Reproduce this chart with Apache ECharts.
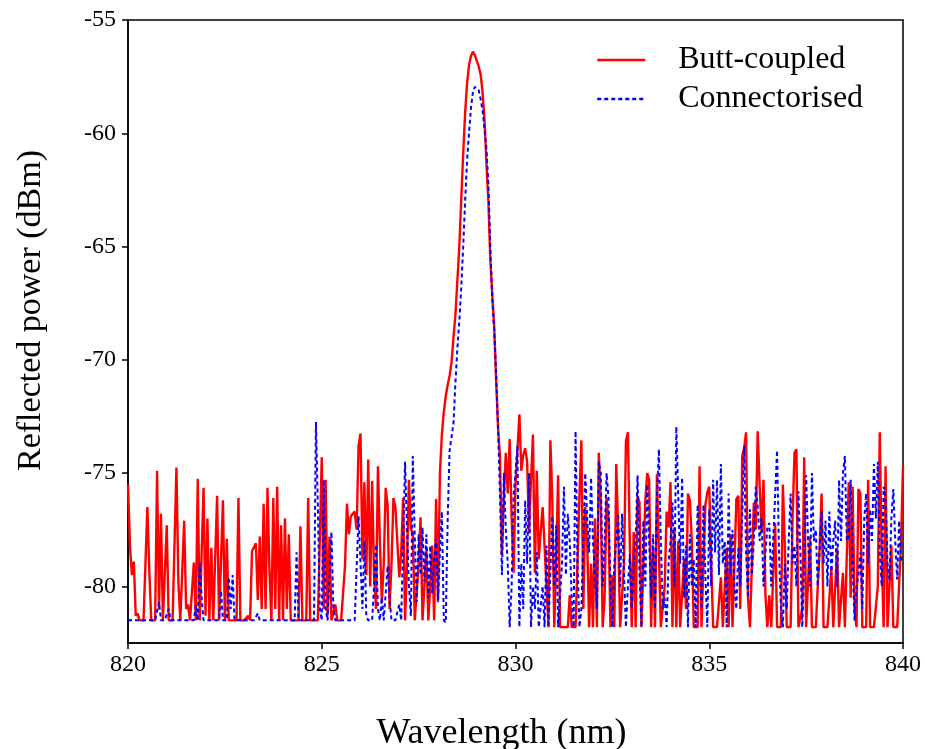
<!DOCTYPE html>
<html>
<head>
<meta charset="utf-8">
<script src="https://cdn.jsdelivr.net/npm/echarts@6/dist/echarts.min.js"></script>
<style>
html,body{margin:0;padding:0;background:#fff;}
#chart{width:925px;height:749px;}
</style>
</head>
<body>
<div id="chart"></div>
<script>
// Sampling grid: 820.00 nm to 840.00 nm, step 0.05 nm
const wavelengthStart = 820;
const wavelengthStep = 0.05;
const seriesNames = ['Butt-coupled', 'Connectorised'];
const xTicks = [820, 825, 830, 835, 840];
const yTicks = [-80, -75, -70, -65, -60, -55];

// Reflected power (dBm), one row per nm
const buttCoupled = [
  -75.5,-78.2,-79.5,-78.9,-81.3,-81.2,-81.5,-81.5,-81.5,-79.0,-76.5,-79.3,-81.5,-81.5,-81.5,-74.9,-81.0,-76.8,-81.5,-81.5,
  -77.3,-81.5,-81.5,-81.5,-81.5,-74.75,-79.8,-81.5,-81.5,-77.1,-81.0,-80.8,-81.5,-81.5,-78.95,-81.5,-75.25,-81.5,-81.5,-75.65,
  -81.3,-77.0,-81.5,-78.3,-81.5,-81.5,-76.0,-81.5,-81.5,-76.2,-81.5,-77.9,-81.5,-81.5,-81.5,-81.5,-81.5,-76.1,-81.5,-81.5,
  -81.5,-81.5,-81.3,-81.5,-78.45,-78.4,-78.1,-80.6,-77.8,-81.0,-76.35,-81.0,-75.65,-79.25,-81.5,-76.1,-81.0,-75.6,-81.5,-77.3,
  -81.5,-77.0,-81.0,-77.7,-81.5,-81.5,-81.5,-81.5,-81.5,-77.35,-81.5,-81.5,-81.5,-76.1,-81.5,-81.5,-81.5,-81.5,-81.5,-81.5,
  -74.3,-81.0,-75.3,-81.3,-77.8,-81.5,-81.5,-80.8,-81.5,-81.5,-81.5,-81.5,-79.1,-76.35,-77.7,-76.9,-76.9,-76.7,-77.5,-73.8,
  -73.25,-78.8,-75.4,-79.5,-74.4,-80.0,-75.35,-79.5,-81.0,-74.7,-78.0,-80.7,-79.0,-75.65,-76.45,-81.0,-79.0,-76.1,-76.5,-78.0,
  -79.6,-78.5,-76.1,-81.5,-79.0,-75.3,-77.5,-77.6,-81.5,-81.5,-79.0,-76.95,-81.5,-81.5,-78.4,-81.5,-80.0,-78.2,-81.5,-76.15,
  -80.7,-75.0,-73.3,-72.3,-71.6,-71.1,-70.7,-70.1,-69.0,-68.0,-66.5,-65.0,-62.9,-60.9,-59.1,-57.8,-57.0,-56.6,-56.4,-56.55,
  -56.8,-57.05,-57.4,-58.2,-59.4,-61.3,-63.0,-65.6,-67.1,-68.5,-70.9,-73.0,-74.3,-78.6,-76.0,-74.1,-75.9,-73.5,-77.0,-79.4,
  -75.5,-74.0,-72.4,-74.9,-74.2,-73.9,-74.5,-77.6,-75.3,-73.3,-79.4,-74.9,-78.8,-77.6,-76.5,-78.2,-80.0,-81.8,-73.55,-76.2,
  -81.8,-78.8,-75.1,-81.8,-81.8,-81.8,-81.8,-81.8,-80.4,-81.8,-81.8,-81.8,-81.8,-76.0,-73.55,-81.0,-76.5,-78.0,-81.8,-79.0,
  -81.8,-77.0,-81.8,-74.1,-76.2,-81.8,-80.5,-76.1,-77.0,-81.8,-79.5,-81.8,-74.6,-77.6,-81.8,-81.8,-79.0,-73.6,-73.2,-78.0,
  -81.8,-77.6,-81.8,-76.0,-76.3,-81.8,-79.0,-76.2,-75.0,-75.3,-81.8,-78.3,-81.8,-75.05,-78.4,-81.8,-81.8,-80.0,-76.7,-77.4,
  -75.4,-81.8,-77.4,-81.8,-78.0,-81.8,-81.8,-78.8,-81.0,-75.9,-76.2,-78.0,-81.8,-81.8,-81.8,-74.7,-81.8,-81.8,-76.4,-75.85,
  -75.6,-78.9,-81.8,-81.8,-81.8,-81.8,-79.6,-81.8,-81.8,-78.3,-81.8,-77.7,-81.8,-81.8,-76.15,-76.0,-81.0,-74.25,-73.9,-73.2,
  -80.5,-81.8,-81.8,-76.3,-77.5,-73.15,-75.5,-77.6,-75.3,-80.4,-81.8,-80.4,-81.8,-81.8,-77.2,-81.8,-81.8,-81.8,-75.5,-78.2,
  -81.8,-81.8,-81.8,-77.0,-74.1,-73.95,-81.8,-81.8,-81.0,-74.3,-81.8,-81.8,-77.8,-81.8,-81.8,-81.8,-81.8,-78.2,-75.9,-81.8,
  -81.8,-81.8,-81.8,-79.2,-81.8,-81.8,-78.3,-81.8,-81.8,-79.4,-81.8,-81.8,-75.4,-80.5,-75.6,-81.0,-81.8,-75.7,-75.9,-81.8,
  -81.8,-81.8,-75.3,-81.8,-81.8,-81.8,-81.8,-80.0,-73.2,-78.5,-81.8,-74.7,-81.8,-81.8,-78.2,-81.8,-81.8,-81.8,-81.8,-78.0,
  -74.7
];

const connectorised = [
  -81.5,-81.5,-81.5,-81.5,-81.5,-81.5,-81.5,-81.5,-81.5,-81.5,-81.5,-81.5,-81.5,-81.5,-81.5,-81.5,-80.7,-81.5,-81.5,-81.5,
  -81.5,-81.0,-81.5,-81.5,-81.5,-81.5,-81.5,-81.5,-81.5,-81.5,-81.5,-81.5,-81.5,-81.5,-81.5,-80.8,-81.5,-78.95,-80.5,-81.5,
  -81.5,-81.5,-81.5,-81.5,-81.5,-81.5,-81.5,-81.5,-80.2,-81.5,-81.5,-81.5,-79.6,-81.0,-79.5,-81.5,-81.5,-81.5,-81.5,-81.5,
  -81.5,-81.5,-81.5,-81.5,-81.5,-81.5,-81.5,-81.2,-81.5,-81.5,-81.5,-81.5,-81.5,-81.5,-81.5,-81.5,-81.5,-81.5,-81.5,-81.5,
  -81.5,-81.5,-81.5,-81.5,-81.5,-81.5,-81.5,-78.5,-81.5,-81.5,-81.5,-81.5,-81.5,-81.5,-81.5,-81.5,-81.5,-72.75,-76.5,-81.0,
  -81.5,-75.3,-81.0,-81.5,-81.5,-77.6,-81.0,-81.5,-81.5,-81.5,-81.5,-81.5,-81.5,-81.5,-81.5,-81.5,-81.5,-81.5,-81.5,-76.9,
  -79.0,-81.0,-78.0,-81.3,-81.5,-81.5,-81.5,-80.0,-78.15,-81.0,-81.5,-80.5,-81.5,-81.5,-79.1,-80.5,-81.5,-81.5,-81.5,-81.5,
  -80.8,-81.5,-81.5,-74.5,-77.5,-80.0,-81.3,-74.25,-77.8,-80.7,-77.7,-79.5,-77.4,-79.8,-77.7,-80.5,-78.2,-80.3,-78.8,-77.9,
  -80.6,-78.5,-76.7,-81.5,-81.6,-77.0,-74.0,-73.4,-72.8,-71.0,-69.5,-68.3,-66.8,-65.0,-63.0,-61.2,-60.0,-58.9,-58.2,-57.95,
  -58.0,-58.1,-58.5,-59.0,-59.8,-60.7,-62.2,-65.0,-67.3,-68.7,-70.6,-73.0,-76.0,-79.5,-75.0,-77.5,-79.0,-81.8,-80.0,-76.0,
  -75.0,-73.8,-81.8,-79.0,-81.0,-76.2,-79.0,-75.0,-81.8,-80.0,-81.0,-78.5,-81.8,-81.8,-80.0,-81.8,-78.2,-81.8,-81.8,-76.9,
  -80.0,-77.3,-81.8,-81.8,-79.0,-75.6,-79.5,-76.8,-78.0,-80.5,-81.8,-73.15,-79.0,-81.8,-81.0,-78.0,-75.0,-77.0,-78.5,-75.2,
  -78.0,-78.0,-81.0,-74.5,-75.0,-80.0,-78.0,-75.0,-76.1,-80.0,-81.8,-79.0,-78.0,-76.8,-80.0,-76.8,-79.5,-81.8,-80.0,-78.6,
  -81.0,-79.0,-78.0,-75.1,-79.5,-81.8,-77.1,-80.0,-75.5,-78.0,-80.5,-77.7,-81.0,-76.0,-73.95,-78.0,-81.0,-80.5,-81.8,-79.0,
  -78.0,-76.3,-80.0,-72.95,-76.0,-79.0,-75.2,-80.5,-78.2,-81.8,-77.7,-80.0,-78.8,-81.8,-76.4,-79.0,-81.0,-76.4,-79.5,-81.8,
  -76.6,-80.0,-75.3,-78.5,-75.3,-79.5,-74.6,-79.0,-78.0,-81.8,-75.9,-79.5,-77.5,-80.0,-81.0,-78.3,-80.0,-77.0,-73.8,-78.5,
  -80.5,-76.6,-79.5,-78.0,-75.6,-76.5,-78.0,-77.0,-80.0,-78.5,-77.4,-77.2,-80.0,-78.0,-76.0,-74.0,-78.5,-81.0,-81.8,-79.0,
  -81.0,-78.0,-75.9,-79.0,-78.2,-80.0,-75.8,-78.5,-81.8,-79.0,-75.1,-78.0,-80.0,-75.0,-78.0,-77.5,-80.0,-78.5,-76.7,-79.0,
  -77.1,-80.0,-76.7,-79.5,-78.0,-77.1,-80.0,-75.3,-78.0,-75.0,-74.25,-78.0,-77.8,-75.3,-79.0,-81.5,-80.0,-79.5,-78.5,-81.0,
  -77.0,-75.9,-79.0,-76.6,-78.0,-74.6,-77.0,-74.5,-78.5,-80.0,-75.6,-76.0,-79.0,-79.7,-77.0,-75.7,-78.0,-79.7,-77.1,-78.8,
  -79.0
];

function toPairs(values) {
  return values.map((v, i) => [+(wavelengthStart + i * wavelengthStep).toFixed(2), v]);
}

const FONT = '"Liberation Serif", "Times New Roman", serif';
const chart = echarts.init(document.getElementById('chart'), null, {renderer: 'canvas'});
chart.setOption({
  animation: false,
  backgroundColor: '#ffffff',
  grid: {
    left: 128, right: 22, top: 20, bottom: 106,
    containLabel: false, outerBoundsMode: 'none',
    show: true, borderColor: '#000', borderWidth: 1.5, backgroundColor: 'transparent'
  },
  legend: {
    orient: 'vertical',
    left: 596, top: 43,
    padding: 0,
    itemWidth: 48, itemHeight: 14, itemGap: 5,
    itemStyle: {opacity: 0},
    lineStyle: {width: 2.5},
    textStyle: {fontFamily: FONT, fontSize: 32, color: '#000', lineHeight: 34, padding: [0, 0, 0, 28]},
    data: seriesNames
  },
  xAxis: {
    type: 'value',
    min: 820, max: 840, interval: 5,
    name: 'Wavelength (nm)',
    nameLocation: 'middle', nameGap: 73,
    nameTextStyle: {fontFamily: FONT, fontSize: 36, color: '#000', padding: [0, 28, 0, 0]},
    axisLine: {lineStyle: {color: '#000', width: 1.5}},
    axisTick: {show: true, inside: false, length: 6, lineStyle: {color: '#000', width: 1.5}},
    axisLabel: {fontFamily: FONT, fontSize: 24, color: '#000', margin: 10,
      formatter: v => xTicks.includes(v) ? String(v) : ''},
    splitLine: {show: false}
  },
  yAxis: {
    type: 'value',
    min: -82.5, max: -55, interval: 2.5,
    name: 'Reflected power (dBm)',
    nameLocation: 'middle', nameGap: 80,
    nameTextStyle: {fontFamily: FONT, fontSize: 34, color: '#000', padding: [0, 0, 0, 42]},
    axisLine: {lineStyle: {color: '#000', width: 1.5}},
    axisTick: {show: true, inside: false, length: 6, lineStyle: {color: '#000', width: 1.5},
      customValues: yTicks},
    axisLabel: {fontFamily: FONT, fontSize: 24, color: '#000', margin: 12,
      formatter: v => yTicks.includes(v) ? String(v) : ''},
    splitLine: {show: false}
  },
  series: [
    {
      name: seriesNames[0], type: 'line', data: toPairs(buttCoupled),
      symbol: 'none', smooth: false,
      lineStyle: {color: '#ff0000', width: 2.4},
      itemStyle: {color: '#ff0000'},
      z: 2
    },
    {
      name: seriesNames[1], type: 'line', data: toPairs(connectorised),
      symbol: 'none', smooth: false,
      lineStyle: {color: '#0000ff', width: 2, type: [4, 3]},
      itemStyle: {color: '#0000ff'},
      z: 3
    }
  ]
});
</script>
</body>
</html>
